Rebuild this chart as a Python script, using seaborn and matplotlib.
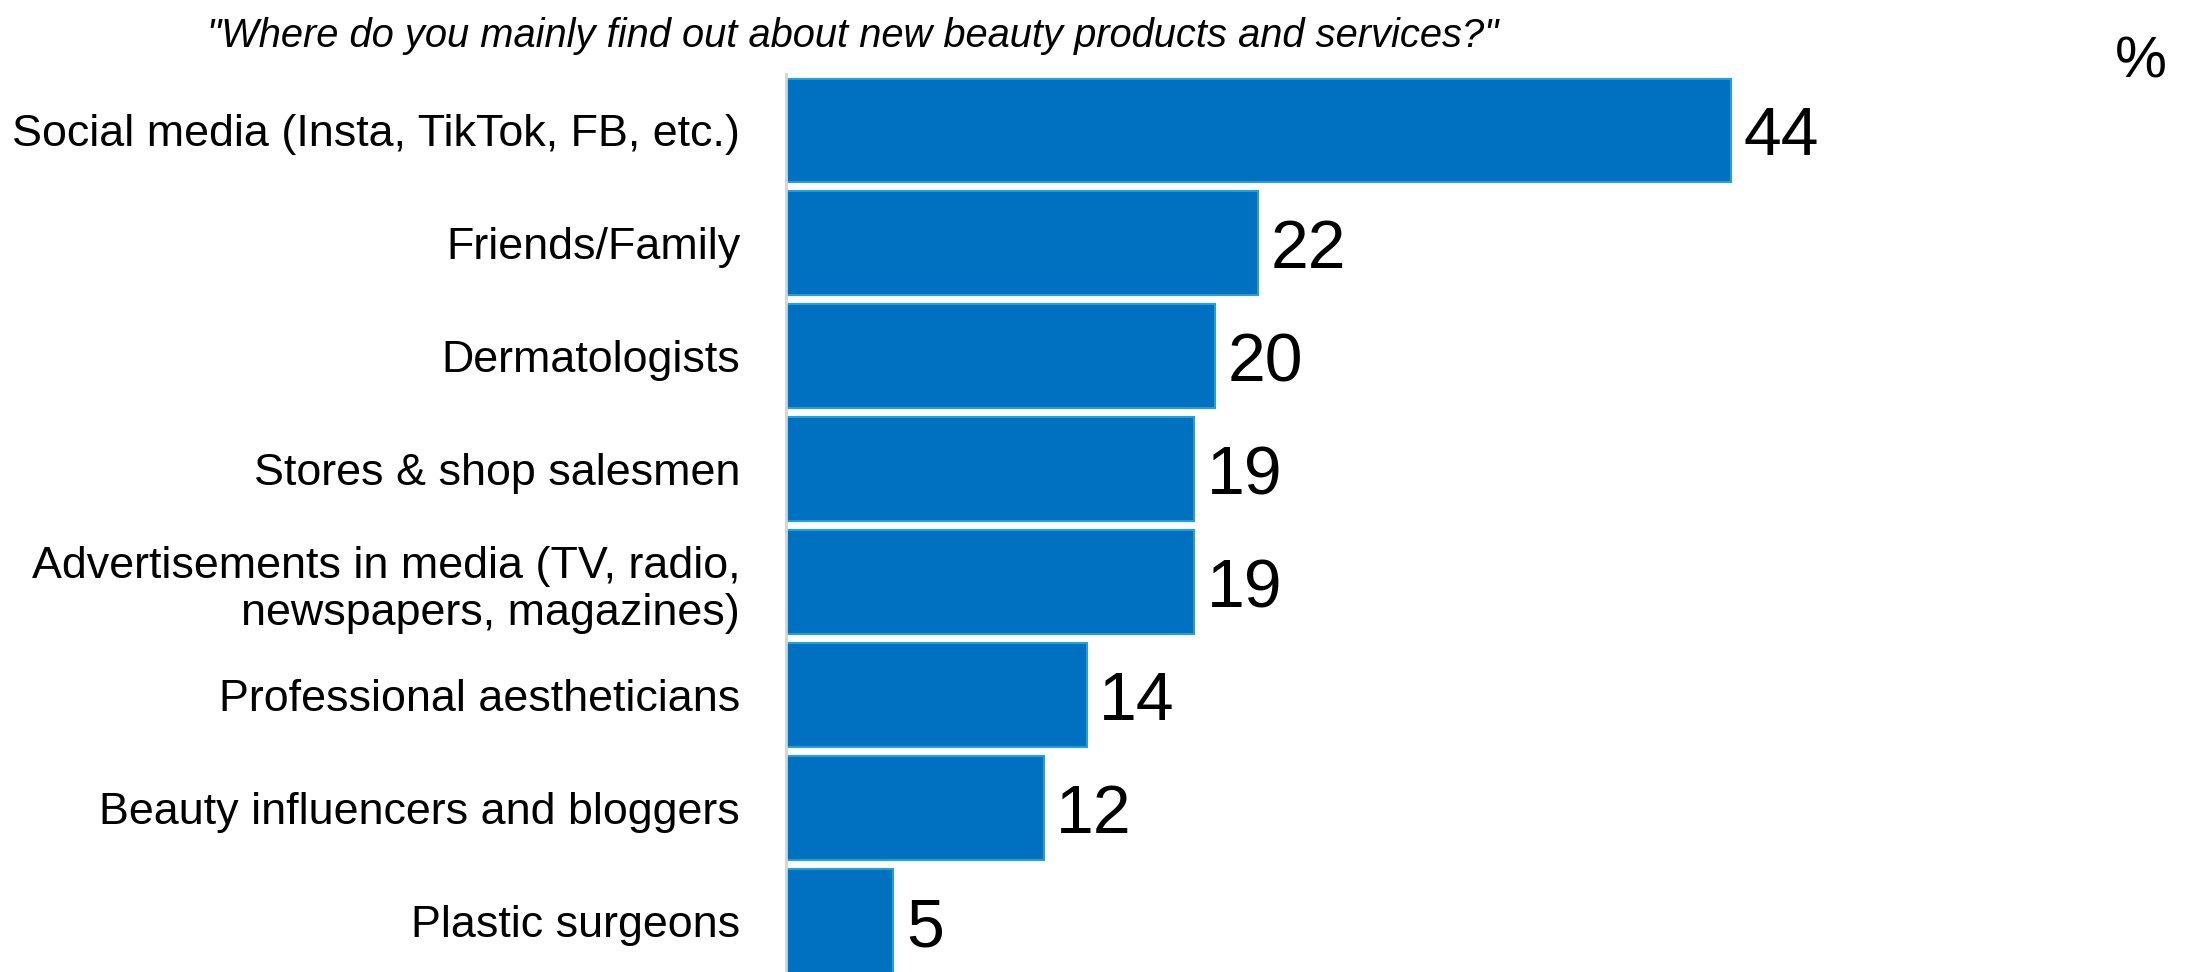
import matplotlib
matplotlib.use("Agg")
import matplotlib.pyplot as plt
import seaborn as sns
import pandas as pd

categories = [
    "Social media (Insta, TikTok, FB, etc.)",
    "Friends/Family",
    "Dermatologists",
    "Stores & shop salesmen",
    "Advertisements in media (TV, radio,\nnewspapers, magazines)",
    "Professional aestheticians",
    "Beauty influencers and bloggers",
    "Plastic surgeons",
]
values = [44, 22, 20, 19, 19, 14, 12, 5]
title = '"Where do you mainly find out about new beauty products and services?"'
unit = "%"

sns.set_theme(style="white")
plt.rcParams["font.family"] = ["Liberation Sans", "DejaVu Sans"]

df = pd.DataFrame({"category": categories, "value": values})

fig = plt.figure(figsize=(21.9, 9.72), dpi=100)
ax = fig.add_axes([786 / 2190, 0.0, 1 - 786 / 2190, 1 - 74 / 972])

sns.barplot(data=df, x="value", y="category", orient="h", color="#0070C0",
            saturation=1, width=0.92, edgecolor="#22A0DC", linewidth=1.5, ax=ax)

ax.set_xlim(0, 65.4)
ax.set_ylim(7.45, -0.5)
ax.set_xlabel("")
ax.set_ylabel("")
ax.set_xticks([])
ax.tick_params(axis="y", length=0, pad=33, labelsize=32.3, labelcolor="black")
for sp in ["top", "right", "bottom"]:
    ax.spines[sp].set_visible(False)
ax.spines["left"].set_color("#d4d4d4")
ax.spines["left"].set_linewidth(2)

for c in ax.containers:
    anns = ax.bar_label(c, labels=[str(v) for v in values], padding=9,
                        fontsize=49, color="black")
    for t in anns:
        t.set_va("center_baseline")

fig.text(207 / 2190, 1 - 36 / 972, title, fontsize=28.7, style="italic",
         ha="left", va="center", color="black")
fig.text(2141 / 2190, 1 - 63 / 972, unit, fontsize=42, ha="center",
         va="center", color="black")

fig.savefig("out.png", dpi=100)
